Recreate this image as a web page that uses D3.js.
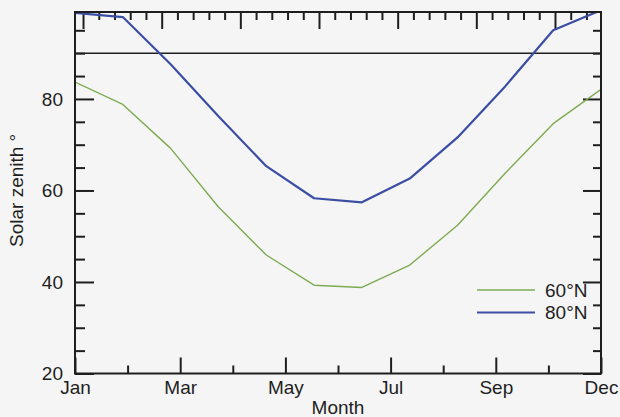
<!DOCTYPE html>
<html>
<head>
<meta charset="utf-8">
<script src="https://cdn.jsdelivr.net/npm/d3@7"></script>
<style>
body { margin: 0; background: #f5f5f5; }
text { font-family: "Liberation Sans", Arial, sans-serif; fill: #1e1e1e; }
</style>
</head>
<body>
<svg id="chart" width="620" height="417"></svg>
<script>
// monthly mean solar zenith angle (degrees)
const months = ["Jan", "Feb", "Mar", "Apr", "May", "Jun", "Jul", "Aug", "Sep", "Oct", "Nov", "Dec"]
const zenith60 = [83.7, 78.8, 69.2, 56.4, 45.9, 39.3, 38.8, 43.7, 52.4, 63.8, 74.6, 82.1]
const zenith80 = [98.8, 97.9, 87.6, 76.2, 65.3, 58.3, 57.4, 62.6, 71.6, 82.8, 95.0, 99.4]

const monthLabels = ["Jan", "Mar", "May", "Jul", "Sep", "Dec"]
const yMajor = [20, 40, 60, 80]
const yMinor = [25, 30, 35, 45, 50, 55, 65, 70, 75, 85, 90, 95]
const horizon = 90

const series = [
    {name: "60\u00b0N", values: zenith60, color: "#7dab52", width: 1.4},
    {name: "80\u00b0N", values: zenith80, color: "#3b4ea3", width: 2.2},
]

const plotLeft = 75, plotRight = 601, plotTop = 12, plotBottom = 373.5

const svg = d3.select("#chart")

let x = d3.scaleLinear().domain([0, months.length - 1]).range([plotLeft, plotRight])
let xLab = d3.scaleLinear().domain([0, monthLabels.length - 1]).range([plotLeft, plotRight])
// the top axis carries its own, unlabelled tick spacing
let xTop = d3.scaleLinear().domain([-0.102, 6.585]).range([plotLeft, plotRight])
let y = d3.scaleLinear().domain([20, 99]).range([plotBottom, plotTop])

svg.append("defs").append("clipPath")
    .attr("id", "plot")
    .append("rect")
        .attr("x", plotLeft)
        .attr("y", plotTop)
        .attr("width", plotRight - plotLeft)
        .attr("height", plotBottom - plotTop)

function styleAxis(g) {
    g.select(".domain").remove()
    g.selectAll("line").attr("stroke", "#1e1e1e").attr("stroke-width", 2)
    g.selectAll("text").attr("font-size", 19).attr("fill", "#1e1e1e")
}

// left axis
svg.append("g")
    .attr("transform", `translate(${plotLeft},0)`)
    .call(d3.axisLeft(y).tickValues(yMinor).tickSize(-10).tickFormat(""))
    .call(styleAxis)
svg.append("g")
    .attr("transform", `translate(${plotLeft},0)`)
    .call(d3.axisLeft(y).tickValues(yMajor).tickSize(-19).tickPadding(12).tickFormat(d3.format("d")))
    .call(styleAxis)

// right axis
svg.append("g")
    .attr("transform", `translate(${plotRight},0)`)
    .call(d3.axisRight(y).tickValues(yMinor).tickSize(-8).tickFormat(""))
    .call(styleAxis)
svg.append("g")
    .attr("transform", `translate(${plotRight},0)`)
    .call(d3.axisRight(y).tickValues(yMajor).tickSize(-18).tickFormat(""))
    .call(styleAxis)

// bottom axis
svg.append("g")
    .attr("transform", `translate(0,${plotBottom})`)
    .call(d3.axisBottom(xLab).tickValues(d3.range(0.5, monthLabels.length - 1, 1)).tickSize(-8).tickFormat(""))
    .call(styleAxis)
svg.append("g")
    .attr("transform", `translate(0,${plotBottom})`)
    .call(d3.axisBottom(xLab).tickValues(d3.range(0, monthLabels.length)).tickSize(-16).tickPadding(7)
        .tickFormat(i => monthLabels[i]))
    .call(styleAxis)

// top axis
let topMinor = d3.range(0.2, 6.59, 0.2).filter(v => Math.abs(v - Math.round(v)) > 0.01)
svg.append("g")
    .attr("transform", `translate(0,${plotTop})`)
    .call(d3.axisTop(xTop).tickValues(topMinor).tickSize(-8).tickFormat(""))
    .call(styleAxis)
svg.append("g")
    .attr("transform", `translate(0,${plotTop})`)
    .call(d3.axisTop(xTop).tickValues(d3.range(0, 7)).tickSize(-17).tickFormat(""))
    .call(styleAxis)

// horizon line
svg.append("line")
    .attr("x1", plotLeft)
    .attr("x2", plotRight)
    .attr("y1", y(horizon))
    .attr("y2", y(horizon))
    .attr("stroke", "#1e1e1e")
    .attr("stroke-width", 1.6)

// data lines
let line = d3.line()
    .x((d, i) => x(i))
    .y(d => y(d))
svg.append("g")
    .attr("clip-path", "url(#plot)")
    .selectAll("path")
    .data(series)
    .join("path")
        .attr("fill", "none")
        .attr("stroke", d => d.color)
        .attr("stroke-width", d => d.width)
        .attr("stroke-linejoin", "round")
        .attr("d", d => line(d.values))

// frame
svg.append("rect")
    .attr("x", plotLeft)
    .attr("y", plotTop)
    .attr("width", plotRight - plotLeft)
    .attr("height", plotBottom - plotTop)
    .attr("fill", "none")
    .attr("stroke", "#1e1e1e")
    .attr("stroke-width", 2)

// legend
let legend = svg.append("g")
    .selectAll("g")
    .data(series)
    .join("g")
        .attr("transform", (d, i) => `translate(477,${290 + i * 22.5})`)
legend.append("line")
    .attr("x1", 0)
    .attr("x2", 58)
    .attr("stroke", d => d.color)
    .attr("stroke-width", d => d.width)
legend.append("text")
    .attr("x", 68)
    .attr("dy", "0.35em")
    .attr("font-size", 19)
    .text(d => d.name)

// axis titles
svg.append("text")
    .attr("x", (plotLeft + plotRight) / 2)
    .attr("y", 414)
    .attr("text-anchor", "middle")
    .attr("font-size", 19)
    .text("Month")
svg.append("text")
    .attr("transform", "translate(23,247) rotate(-90)")
    .attr("font-size", 19)
    .text("Solar zenith \u00b0")
</script>
</body>
</html>
